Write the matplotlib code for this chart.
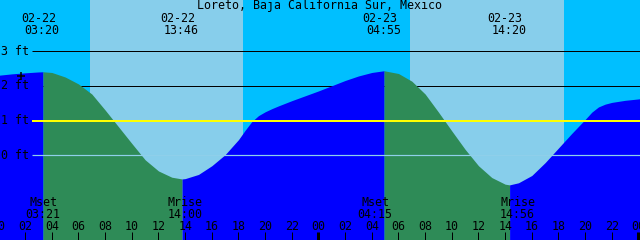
import matplotlib
matplotlib.use("Agg")
import matplotlib.pyplot as plt
import matplotlib.transforms as mtransforms
import numpy as np

# ---------------- data ----------------
title = "Loreto, Baja California Sur, Mexico"

# hours since 02-22 00:00 and tide height (ft)
hours = [0, 1, 2, 3, 3.333, 4, 5, 6, 7, 8, 9, 10, 11, 12, 13, 13.767, 14, 15, 16, 17,
         18, 18.5, 19, 19.5, 20, 20.5, 21, 22, 23, 24, 25, 26, 27, 28, 28.917, 30,
         31, 32, 33, 34, 35, 36, 37, 38, 38.333, 39, 40, 41, 42, 43, 44, 44.5, 45,
         45.5, 46, 47, 48, 48.2]
heights = [2.30, 2.34, 2.37, 2.395, 2.40, 2.38, 2.25, 2.05, 1.76, 1.30, 0.82, 0.34,
           -0.13, -0.45, -0.63, -0.68, -0.67, -0.55, -0.30, 0.02,
           0.45, 0.72, 0.97, 1.14, 1.25, 1.34, 1.42, 1.57, 1.71, 1.85, 2.00, 2.15,
           2.28, 2.38, 2.43, 2.35,
           2.13, 1.76, 1.24, 0.70, 0.17, -0.30, -0.64, -0.83, -0.85, -0.79, -0.58,
           -0.21, 0.21, 0.63, 1.03, 1.24, 1.39,
           1.47, 1.52, 1.58, 1.62, 1.63]

tide_dates = ["02-22", "02-22", "02-23", "02-23"]
tide_times = ["03:20", "13:46", "04:55", "14:20"]
tide_kinds = ["high", "low", "high", "low"]

sunrise_hours = [6.86, 30.86]
sunset_hours = [18.31, 42.41]

moon_labels = ["Mset", "Mrise", "Mset", "Mrise"]
moon_times = ["03:21", "14:00", "04:15", "14:56"]
moon_days = [0, 0, 1, 1]

level_values = [3, 2, 1, 0]
level_labels = ["3 ft", "2 ft", "1 ft", "0 ft"]

# ---------------- styling / geometry ----------------
W, H = 640, 240
PXH = 13.333      # pixels per hour
X0 = -1.5         # pixel of hour 0
Y0 = 155.3        # pixel of 0 ft
PYF = 34.8        # pixels per foot

DAY = "#87CEEB"
NIGHT = "#00BFFF"
FLOOD = "#0000FF"
EBB = "#2E8B57"
FONT = "DejaVu Sans Mono"
FS = 8.4


def hx(px):
    return (px - X0) / PXH


def fy(py):
    return (Y0 - py) / PYF


def tofloat(t, day):
    hh, mm = t.split(":")
    return day * 24 + int(hh) + int(mm) / 60.0


tide_days = [0 if d == "02-22" else 1 for d in tide_dates]
tide_hours = [tofloat(t, d) for t, d in zip(tide_times, tide_days)]
moon_hours = [tofloat(t, d) for t, d in zip(moon_times, moon_days)]

fig = plt.figure(figsize=(W / 100, H / 100), dpi=100)
ax = fig.add_axes([0, 0, 1, 1])
ax.set_axis_off()
ax.set_xlim(hx(0), hx(W))
ax.set_ylim(fy(H), fy(0))

px = 0.72  # one pixel in points

# background: night then day spans
ax.axvspan(hx(0), hx(W), color=NIGHT, lw=0, zorder=0)
for r, s in zip(sunrise_hours, sunset_hours):
    ax.axvspan(r, s, color=DAY, lw=0, zorder=1)

# black level lines (behind the tide)
for v in level_values:
    if v >= 2:
        ax.plot([hx(32), hx(W)], [v, v], color="black", lw=px, zorder=2,
                solid_capstyle="butt")

# tide fill: flood (rising) blue, ebb (falling) green
h = np.array(hours)
z = np.array(heights)
bounds = [h[0]] + tide_hours + [h[-1]]
kinds_before = ["flood"]
for k in tide_kinds:
    kinds_before.append("ebb" if k == "high" else "flood")
for i in range(len(bounds) - 1):
    a, b = bounds[i], bounds[i + 1]
    mask = (h >= a - 0.01) & (h <= b + 0.01)
    col = EBB if kinds_before[i] == "ebb" else FLOOD
    ax.fill_between(h, z, fy(H + 5), where=mask, color=col, lw=0, zorder=3)

# yellow 1 ft line and light 0 ft line on top
ax.plot([hx(32), hx(W)], [1, 1], color="#FFFF00", lw=px * 2, zorder=4,
        solid_capstyle="butt")
ax.plot([hx(32), hx(W)], [0, 0], color="#8FCFEA", lw=px * 1.2, zorder=4,
        solid_capstyle="butt")

# level labels
for v, lab in zip(level_values, level_labels):
    ypix = Y0 - v * PYF + 3.7
    fig.text(1 / W, 1 - ypix / H, lab, fontsize=FS, family=FONT,
             ha="left", va="baseline", color="black", zorder=6)

# "+" mark
ax.plot([hx(20.8)], [fy(76)], marker="+", ms=6, mew=1.1, color="black", zorder=6)

trans = mtransforms.blended_transform_factory(ax.transData, ax.transAxes)

# title
fig.text(319.5 / W, 1 - 9 / H, title, fontsize=FS, family=FONT,
         ha="center", va="baseline", color="black")

# tide extreme labels
for d, t, th in zip(tide_dates, tide_times, tide_hours):
    ax.text(th - 4.5 / PXH, 1 - 22 / H, d, transform=trans, fontsize=FS, family=FONT,
            ha="center", va="baseline", zorder=6)
    ax.text(th - 0.7 / PXH, 1 - 34 / H, t, transform=trans, fontsize=FS, family=FONT,
            ha="center", va="baseline", zorder=6)

# moon labels
for lab, t, mh in zip(moon_labels, moon_times, moon_hours):
    ax.text(mh, 1 - 206 / H, lab, transform=trans, fontsize=FS, family=FONT,
            ha="center", va="baseline", zorder=6)
    ax.text(mh, 1 - 218.3 / H, t, transform=trans, fontsize=FS, family=FONT,
            ha="center", va="baseline", zorder=6)

# hour ticks and labels
for hr in range(0, 49, 2):
    ax.text(hr, 1 - 230 / H, f"{hr % 24:02d}", transform=trans, fontsize=FS,
            family=FONT, ha="center", va="baseline", zorder=6)
    lw = px * 3 if hr % 24 == 0 else px
    ax.plot([hr, hr], [fy(H + 2), fy(231.7)], color="black", lw=lw, zorder=6,
            solid_capstyle="butt")

fig.savefig("out.png", dpi=100)
